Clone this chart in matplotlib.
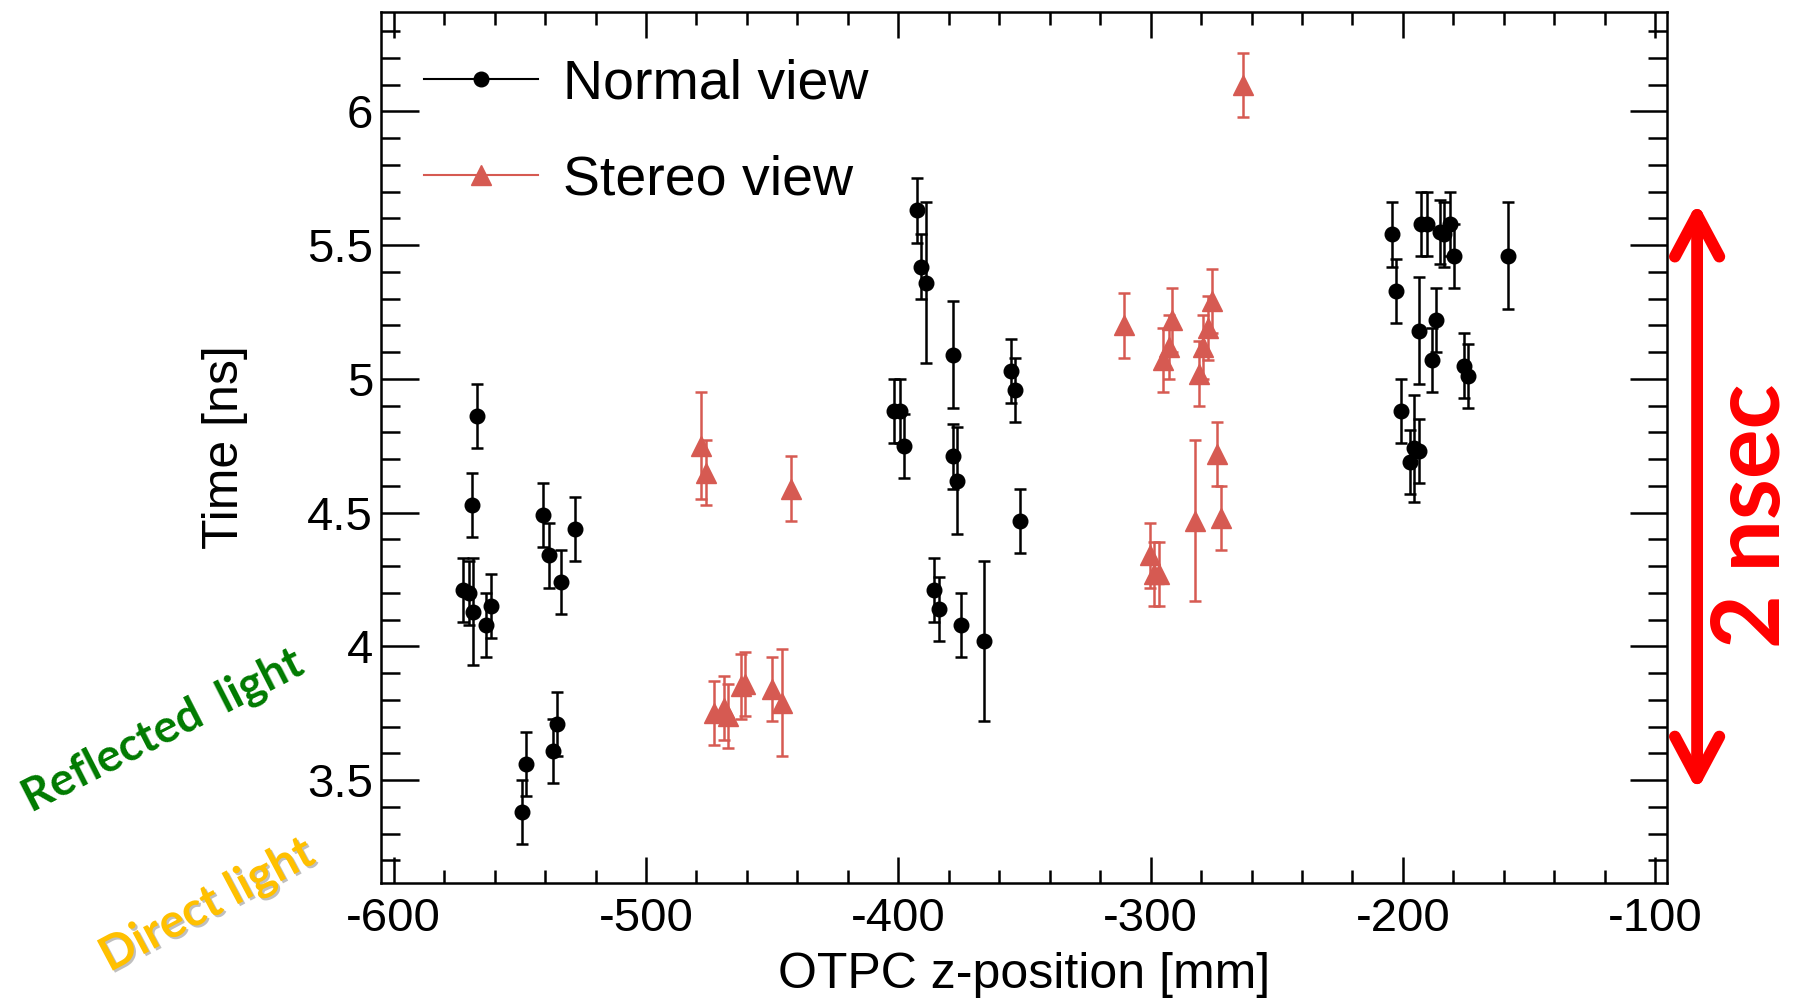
import numpy as np
import matplotlib
matplotlib.use('Agg')
import matplotlib.pyplot as plt
from matplotlib.lines import Line2D
from matplotlib.ticker import MultipleLocator
import matplotlib.patheffects as pe

plt.rcParams['font.family'] = ['Liberation Sans', 'DejaVu Sans']
plt.rcParams['axes.unicode_minus'] = False

# normal view points: z position [mm], time [ns], error [ns]
normal_z = [-567.0, -568.8, -572.6, -570.2, -568.6, -563.5, -561.6, -540.8, -538.6, -533.5, -528.1,
            -549.3, -547.6, -537.0, -535.1,
            -392.6, -390.9, -388.9, -378.5, -355.5, -353.9, -401.9, -399.5, -397.9, -378.5, -376.8,
            -351.9, -385.7, -383.9, -375.0, -366.2,
            -204.4, -202.7, -192.9, -190.5, -185.5, -183.6, -181.5, -179.7, -158.5, -193.8, -186.8,
            -188.4, -176.0, -174.3, -200.8, -195.5, -193.5, -197.4]
normal_t = [4.86, 4.53, 4.21, 4.20, 4.13, 4.08, 4.15, 4.49, 4.34, 4.24, 4.44,
            3.38, 3.56, 3.61, 3.71,
            5.63, 5.42, 5.36, 5.09, 5.03, 4.96, 4.88, 4.88, 4.75, 4.71, 4.62,
            4.47, 4.21, 4.14, 4.08, 4.02,
            5.54, 5.33, 5.58, 5.58, 5.55, 5.54, 5.58, 5.46, 5.46, 5.18, 5.22,
            5.07, 5.05, 5.01, 4.88, 4.74, 4.73, 4.69]
normal_err = [0.12, 0.12, 0.12, 0.12, 0.2, 0.12, 0.12, 0.12, 0.12, 0.12, 0.12,
              0.12, 0.12, 0.12, 0.12,
              0.12, 0.12, 0.3, 0.2, 0.12, 0.12, 0.12, 0.12, 0.12, 0.12, 0.2,
              0.12, 0.12, 0.12, 0.12, 0.3,
              0.12, 0.12, 0.12, 0.12, 0.12, 0.12, 0.12, 0.12, 0.2, 0.2, 0.12,
              0.12, 0.12, 0.12, 0.12, 0.2, 0.12, 0.12]

# stereo view points
stereo_z = [-478.1, -476.1, -442.6, -473.0, -469.0, -467.5, -462.3, -460.6, -449.9, -446.0,
            -263.2, -310.7, -291.4, -292.9, -294.9, -275.5, -277.1, -279.1, -280.8,
            -273.7, -272.0, -282.6, -300.2, -298.5, -296.6]
stereo_t = [4.75, 4.65, 4.59, 3.75, 3.77, 3.74, 3.85, 3.86, 3.84, 3.79,
            6.10, 5.20, 5.22, 5.12, 5.07, 5.29, 5.19, 5.12, 5.02,
            4.72, 4.48, 4.47, 4.34, 4.27, 4.27]
stereo_err = [0.2, 0.12, 0.12, 0.12, 0.12, 0.12, 0.12, 0.12, 0.12, 0.2,
              0.12, 0.12, 0.12, 0.12, 0.12, 0.12, 0.12, 0.12, 0.12,
              0.12, 0.12, 0.3, 0.12, 0.12, 0.12]

# span marked by the red arrow on the right [ns]
arrow_span = [3.46, 5.66]

red = '#d65a52'

fig = plt.figure(figsize=(17.99, 9.98), dpi=100)
ax = fig.add_axes([0.2118, 0.1152, 0.7149, 0.8728])

ax.errorbar(normal_z, normal_t, yerr=normal_err, fmt='o', color='black', ms=10.5,
            elinewidth=1.8, capsize=4, capthick=1.8)
ax.errorbar(stereo_z, stereo_t, yerr=stereo_err, fmt='^', color=red, ms=14,
            elinewidth=1.8, capsize=4, capthick=1.8)

ax.set_xlim(-605, -95.3)
ax.set_ylim(3.115, 6.372)

ax.xaxis.set_major_locator(MultipleLocator(100))
ax.xaxis.set_minor_locator(MultipleLocator(20))
ax.yaxis.set_major_locator(MultipleLocator(0.5))
ax.yaxis.set_minor_locator(MultipleLocator(0.1))
ax.yaxis.set_major_formatter(matplotlib.ticker.FuncFormatter(lambda v, p: '%g' % v))

ax.tick_params(which='both', direction='in', top=True, right=True, width=1.8, labelsize=34)
ax.tick_params(axis='y', which='major', length=27, pad=5.8)
ax.tick_params(axis='y', which='minor', length=13.7)
ax.tick_params(axis='x', which='major', length=18.7, pad=10)
ax.tick_params(axis='x', which='minor', length=9.4)
for s in ax.spines.values():
    s.set_linewidth(1.8)

ax.set_xlabel('OTPC z-position [mm]', fontsize=36, va='top')
ax.set_ylabel('Time [ns]', fontsize=36)
ax.xaxis.set_label_coords(0.5, -0.079)
ax.yaxis.set_label_coords(-0.1034, 0.5)

handles = [Line2D([], [], color='black', marker='o', ms=10.5, lw=1.5),
           Line2D([], [], color=red, marker='^', ms=14, lw=1.5)]
ax.legend(handles, ['Normal view', 'Stereo view'], loc='upper left',
          bbox_to_anchor=(0.0334, 0.947), frameon=False, fontsize=40,
          handlelength=2.05, handletextpad=0.45, labelspacing=0.79,
          borderpad=0, borderaxespad=0, numpoints=1)

# 2 nsec arrow
ax.annotate('', xy=(1.0233, arrow_span[0]), xytext=(1.0233, arrow_span[1]),
            xycoords=('axes fraction', 'data'), textcoords=('axes fraction', 'data'),
            annotation_clip=False,
            arrowprops=dict(arrowstyle='<->,head_length=30,head_width=16', mutation_scale=1,
                            color='red', lw=8.5, capstyle='round', joinstyle='round',
                            shrinkA=0, shrinkB=0))
fig.text(0.9745, 0.483, '2 nsec', color='red', fontsize=67, fontweight='bold',
         family='Lato', rotation=90, ha='center', va='center', rotation_mode='anchor')

fig.text(0.0906, 0.2675, 'Reflected  light', color='#007a00', fontsize=33, fontweight='bold',
         family='Lato', rotation=27, ha='center', va='center', rotation_mode='anchor')
fig.text(0.1151, 0.0932, 'Direct light', color='#ffc000', fontsize=34, fontweight='bold',
         family='Lato', rotation=28, ha='center', va='center', rotation_mode='anchor',
         path_effects=[pe.SimplePatchShadow(offset=(1.5, -1.5), shadow_rgbFace='gray', alpha=0.5),
                       pe.Normal()])

fig.savefig('out.png', dpi=100)
